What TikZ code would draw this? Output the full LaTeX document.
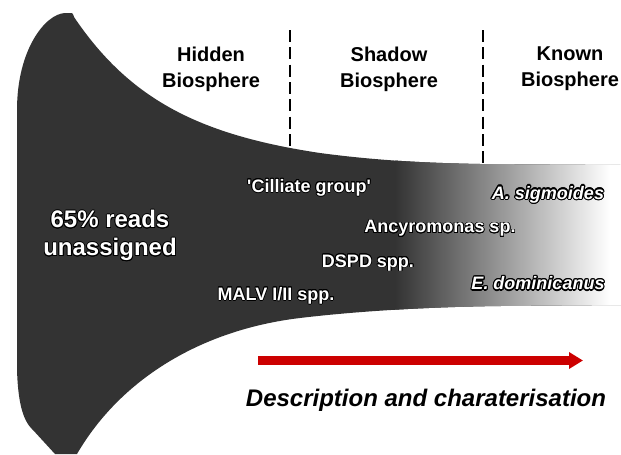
\documentclass[tikz,border=0pt]{standalone}
\usepackage{fontspec}
\setmainfont{Liberation Sans}
\usepackage[copies]{contour}
\usetikzlibrary{arrows.meta}

\definecolor{horngray}{RGB}{51,51,51}
\definecolor{arrowred}{RGB}{204,0,0}
\contourlength{0.6pt}

\newcommand{\hornpath}{(55,454) -- (33,430) .. controls (22,420) and (18,400) .. (17,370) -- (17,110) .. controls (17,50) and (45,14) .. (65,13) -- (72,13) .. controls (73,14) and (74,16) .. (74,17) .. controls (130,100) and (200,135) .. (320,153) .. controls (380,161) and (430,163) .. (480,164) -- (621,165) -- (621,305) -- (500,306) .. controls (420,307) and (350,312) .. (300,318) .. controls (200,330) and (120,380) .. (77,454) -- cycle}
\newcommand{\taxonname}[1]{{\contourlength{0.9pt}\contour{black}{\textit{#1}}}}

\tikzset{every picture/.style={line width=0.75pt}}
\tikzset{
  header/.style={align=center, inner sep=0.75pt, font=\fontsize{15}{19.5}\selectfont\bfseries},
  species/.style={inner sep=0.75pt, text=white, font=\fontsize{13.5}{16}\selectfont\bfseries},
  divider/.style={line width=2pt, dash pattern=on 9pt off 4pt},
  progress/.style={arrowred, line width=6.75pt, -{Triangle[length=10.5pt,width=12pt]}},
}

\begin{document}
\begin{tikzpicture}[x=0.75pt,y=0.75pt,yscale=-1,xscale=1]
				\useasboundingbox (0,0) rectangle (621,454);
				
				%Shape: Horn [dark body]
				\fill [horngray] \hornpath ;
				%Shape: Horn [fade to white]
				\begin{scope}
					\clip \hornpath ;
					\shade [left color=horngray, right color=white] (395,140) rectangle (610,320);
					\fill [white] (610,140) rectangle (622,320);
				\end{scope}
				
				%Straight Lines [dividers]
				\coordinate (hiddentop) at (290,30);
				\coordinate (hiddenbot) at (290,150);
				\coordinate (knowntop) at (483,30);
				\coordinate (knownbot) at (483,164);
				\draw [divider] (hiddentop) -- (hiddenbot);
				\draw [divider] (knowntop) -- (knownbot);
				
				% Text Node
				\node [header] (hidden) at (211,69) {Hidden\\Biosphere};
				% Text Node
				\node [header] (shadow) at (389,69) {Shadow\\Biosphere};
				% Text Node
				\node [header] (known) at (570,69) {Known\\Biosphere};
				
				% Text Node
				\node [align=center, inner sep=0.75pt, text=white, font=\fontsize{18}{21}\selectfont\bfseries] (unassigned) at (110,236) {\contour{black}{65\% reads}\\\contour{black}{unassigned}};
				
				% Text Node
				\node [species] (cilliate) at (309,188) {\contour{black}{\textquotesingle Cilliate group\textquotesingle}};
				% Text Node
				\node [species] (ancyromonas) at (440,229) {\contour{black}{Ancyromonas sp.}};
				% Text Node
				\node [species] (dspd) at (368,263) {\contour{black}{DSPD spp.}};
				% Text Node
				\node [species] (malv) at (276,296) {\contour{black}{MALV I/II spp.}};
				% Text Node
				\node [species] (sigmoides) at (548,195) {\taxonname{A. sigmoides}};
				% Text Node
				\node [species] (dominicanus) at (538,284) {\taxonname{E. dominicanus}};
				
				%Straight Lines [arrow]
				\coordinate (arrowstart) at (258,360.5);
				\coordinate (arrowend) at (583,360.5);
				\draw [progress] (arrowstart) -- (arrowend);
				
				% Text Node
				\node [inner sep=0.75pt, font=\fontsize{18}{21}\selectfont\bfseries\itshape] (description) at (426,400) {Description and charaterisation};
\end{tikzpicture}
\end{document}
